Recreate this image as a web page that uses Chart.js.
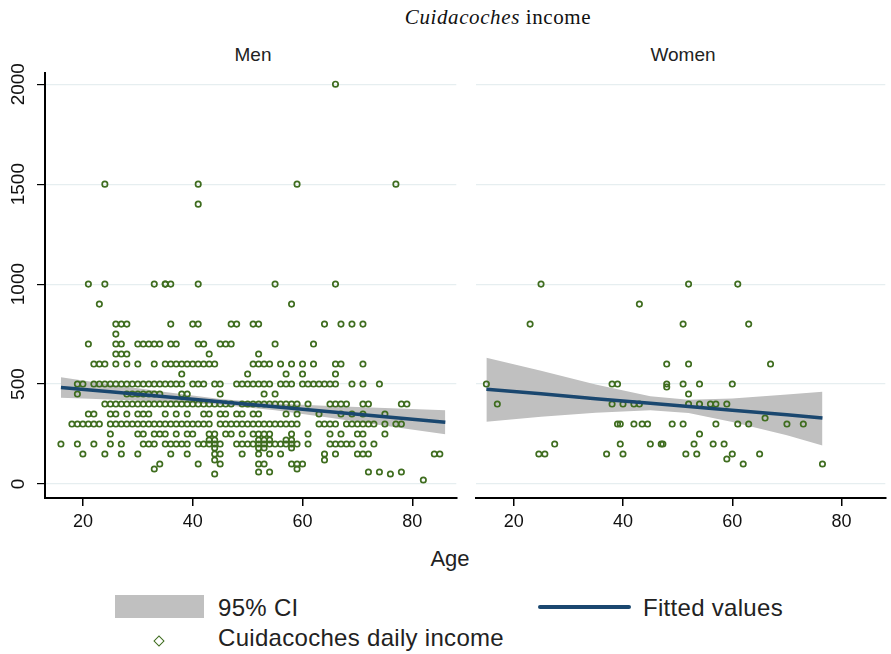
<!DOCTYPE html>
<html lang="en">

<head>
    <meta charset="UTF-8">
    <title>Cuidacoches income</title>
    <style>
        html,
        body {
            margin: 0;
            padding: 0;
            background: #fff;
        }

        body {
            position: relative;
            width: 891px;
            height: 654px;
            overflow: hidden;
            font-family: "Liberation Sans", Arial, sans-serif;
            color: #111;
        }

        canvas,
        .abs {
            position: absolute;
        }

        .abs {
            white-space: nowrap;
        }

        .mid {
            transform: translate(-50%, -50%);
        }

        .left {
            transform: translate(0, -50%);
        }

        #title {
            left: 498px;
            top: 17px;
            font-family: "Liberation Serif", serif;
            font-size: 21px;
            letter-spacing: 0.6px;
        }

        .panel-title {
            top: 55px;
            font-size: 19px;
            color: #222;
        }

        .legend-text {
            font-size: 24px;
            color: #222;
            letter-spacing: 0.3px;
        }
    </style>
</head>

<body>
    <div id="title" class="abs mid"><i>Cuidacoches</i> income</div>
    <div class="abs mid panel-title" style="left: 253px;">Men</div>
    <div class="abs mid panel-title" style="left: 683px;">Women</div>

    <canvas id="menChart" width="462" height="538" style="left: 0; top: 0;"></canvas>
    <canvas id="womenChart" width="421" height="538" style="left: 470px; top: 0;"></canvas>

    <div class="abs mid" style="left: 450px; top: 559px; font-size: 22px; color: #222;">Age</div>

    <div class="abs" style="left: 115px; top: 595px; width: 89px; height: 23px; background: #c0c0c0;"></div>
    <div class="abs left legend-text" style="left: 218px; top: 608px;">95% CI</div>
    <div class="abs" style="left: 538px; top: 605px; width: 93px; height: 4px; border-radius: 2px; background: #1a476f;"></div>
    <div class="abs left legend-text" style="left: 643px; top: 608px;">Fitted values</div>
    <div class="abs mid" style="left: 159px; top: 641px; width: 6px; height: 6px; border: 1.5px solid #3f6d1f; transform: translate(-50%, -50%) rotate(45deg);"></div>
    <div class="abs left legend-text" style="left: 218px; top: 638px;">Cuidacoches daily income</div>
</body>

<script src="https://cdn.jsdelivr.net/npm/chart.js@4.4.6/dist/chart.umd.min.js"></script>
<script>
    const ageTicks = [20, 40, 60, 80];
    const incomeTicks = [0, 500, 1000, 1500, 2000];

    // men: daily income levels and the ages reporting each level
    const menLevels = [2000, 1500, 1400, 1000, 900, 800, 750, 700, 650, 600, 550, 500, 450, 400, 350, 300, 250, 220, 200, 180, 150, 120, 100, 75, 60, 50, 20];
    const menAgesByLevel = [
        [66],
        [24, 41, 59, 77],
        [41],
        [21, 24, 33, 35, 35, 36, 41, 55, 66],
        [23, 58],
        [26, 27, 28, 36, 40, 41, 47, 48, 51, 52, 64, 67, 69, 71],
        [26],
        [21, 26, 27, 30, 31, 32, 33, 34, 36, 37, 41, 42, 45, 46, 47, 55, 62],
        [26, 27, 28, 43, 52],
        [22, 23, 24, 26, 28, 30, 33, 35, 36, 37, 38, 39, 40, 41, 42, 43, 44, 51, 52, 53, 54, 56, 58, 60, 62, 66, 67, 71],
        [38, 50, 57, 60, 66],
        [19, 20, 22, 23, 24, 25, 26, 27, 28, 29, 30, 31, 32, 33, 34, 35, 36, 37, 38, 40, 41, 42, 44, 45, 48, 49, 50, 51, 52, 53, 54, 56, 57, 58, 60, 61, 62, 63, 64, 65, 66, 69, 71, 74],
        [19, 28, 29, 30, 31, 32, 33, 34, 38, 39, 45, 53, 55],
        [24, 25, 26, 27, 28, 29, 30, 31, 32, 33, 34, 35, 36, 37, 38, 39, 40, 41, 42, 43, 44, 45, 46, 47, 49, 50, 51, 52, 53, 54, 55, 56, 57, 58, 59, 61, 65, 66, 67, 68, 71, 72, 78, 79],
        [21, 22, 25, 26, 28, 30, 31, 32, 35, 37, 39, 42, 43, 45, 46, 48, 49, 51, 52, 57, 59, 63, 67, 69, 71, 75],
        [18, 19, 20, 21, 22, 23, 25, 26, 27, 28, 29, 30, 31, 32, 33, 34, 35, 36, 37, 38, 39, 40, 41, 42, 43, 45, 46, 47, 48, 49, 50, 51, 52, 53, 54, 55, 56, 57, 58, 59, 63, 64, 65, 66, 68, 69, 70, 71, 72, 73, 75, 77, 78],
        [25, 30, 31, 33, 34, 35, 37, 39, 40, 43, 44, 46, 47, 49, 51, 52, 53, 54, 58, 61, 65, 67, 70, 71, 75],
        [43, 44, 52, 53, 54, 57, 58],
        [16, 19, 22, 25, 27, 31, 32, 33, 35, 36, 37, 38, 39, 41, 42, 43, 44, 45, 48, 49, 50, 51, 52, 53, 54, 55, 56, 57, 58, 59, 61, 65, 66, 67, 68, 69, 71, 73],
        [44, 52, 53, 58],
        [20, 24, 27, 30, 36, 39, 44, 45, 49, 52, 54, 56, 64, 66, 70, 71, 72, 84, 85],
        [44, 64],
        [34, 41, 45, 52, 53, 58, 59, 60],
        [33, 59],
        [52, 54, 72, 74, 78],
        [44, 76],
        [82],
    ];

    // women: one entry per respondent
    const womenAge = [25, 52, 61, 43, 23, 51, 63, 48, 52, 67, 15, 38, 39, 48, 48, 51, 54, 60, 52, 17, 38, 40, 42, 43, 52, 54, 56, 57, 59, 66, 39, 39.5, 42, 43.5, 44.5, 49, 51, 57, 61, 63, 70, 73, 54, 27.5, 39.5, 45, 47, 47.3, 53, 56.5, 58.5, 24.6, 25.7, 37, 40, 51.5, 53.5, 60, 65, 59, 62, 76.5];
    const womenIncome = [1000, 1000, 1000, 900, 800, 800, 800, 600, 600, 600, 500, 500, 500, 500, 485, 500, 500, 500, 450, 400, 400, 400, 400, 400, 400, 400, 400, 400, 400, 330, 300, 300, 300, 300, 300, 300, 300, 300, 300, 300, 300, 300, 250, 200, 200, 200, 200, 200, 200, 200, 200, 150, 150, 150, 150, 150, 150, 150, 150, 125, 100, 100];

    // linear fit and 95% CI
    const menFitAge = [16, 25, 35, 45, 55, 65, 75, 86];
    const menFit = [483, 461, 436, 411, 386, 361, 336, 309];
    const menCiLow = [432, 423, 412, 397, 369, 332, 292, 249];
    const menCiHigh = [534, 498, 460, 425, 403, 390, 380, 369];

    const womenFitAge = [15, 25, 35, 45, 52, 60, 70, 76.5];
    const womenFit = [474, 451, 427, 404, 388, 369, 346, 330];
    const womenCiLow = [312, 336, 356, 369, 355, 310, 244, 192];
    const womenCiHigh = [632, 566, 498, 439, 421, 428, 448, 462];

    const green = '#3f6d1f';
    const navy = '#1a476f';
    const ciGray = '#c0c0c0';

    const menPoints = [];
    menLevels.forEach((level, i) => {
        menAgesByLevel[i].forEach(age => menPoints.push({ x: age, y: level }));
    });
    const womenPoints = womenAge.map((age, i) => ({ x: age, y: womenIncome[i] }));

    const xy = (xs, ys) => xs.map((x, i) => ({ x, y: ys[i] }));

    function makePanel(canvasId, points, fitAge, fit, low, high, showY) {
        return new Chart(document.getElementById(canvasId), {
            type: 'scatter',
            data: {
                datasets: [
                    {
                        type: 'line', data: xy(fitAge, fit), borderColor: navy, borderWidth: 3.5,
                        pointRadius: 0, fill: false, order: 0,
                    },
                    {
                        data: points, pointStyle: 'circle', radius: 2.7, borderWidth: 1.7,
                        borderColor: green, backgroundColor: 'rgba(0,0,0,0)', order: 1,
                    },
                    {
                        type: 'line', data: xy(fitAge, high), borderColor: 'rgba(0,0,0,0)', borderWidth: 0,
                        pointRadius: 0, fill: '+1', backgroundColor: ciGray, order: 2,
                    },
                    {
                        type: 'line', data: xy(fitAge, low), borderColor: 'rgba(0,0,0,0)', borderWidth: 0,
                        pointRadius: 0, fill: false, order: 3,
                    },
                ]
            },
            options: {
                responsive: false,
                animation: false,
                layout: { padding: { top: 73, left: 0, right: 0, bottom: 0 } },
                plugins: { legend: { display: false }, tooltip: { enabled: false } },
                scales: {
                    x: {
                        type: 'linear',
                        min: 13.1,
                        max: 88,
                        afterBuildTicks: (s) => { s.ticks = ageTicks.map(v => ({ value: v })); },
                        afterFit: (s) => { s.height = 40; },
                        border: { color: '#000', width: 2 },
                        grid: { drawOnChartArea: false, color: '#000', tickLength: 8, lineWidth: 1.5 },
                        ticks: {
                            color: '#111', padding: 5, autoSkip: false, maxRotation: 0,
                            font: { size: 18, family: '"Liberation Sans", Arial, sans-serif' },
                        },
                    },
                    y: {
                        min: -70,
                        max: 2056,
                        afterBuildTicks: (s) => { s.ticks = incomeTicks.map(v => ({ value: v })); },
                        afterFit: (s) => { s.width = showY ? 45 : 6; },
                        border: { display: showY, color: '#000', width: 2 },
                        grid: { color: '#e6eef0', tickColor: '#000', tickLength: 8, drawTicks: showY, lineWidth: 1.2 },
                        ticks: {
                            display: showY, minRotation: 90, maxRotation: 90, crossAlign: 'center',
                            padding: -3, autoSkip: false, color: '#111',
                            callback: (value) => String(value),
                            font: { size: 19, family: '"Liberation Sans", Arial, sans-serif' },
                        },
                    },
                },
            },
        });
    }

    makePanel('menChart', menPoints, menFitAge, menFit, menCiLow, menCiHigh, true);
    makePanel('womenChart', womenPoints, womenFitAge, womenFit, womenCiLow, womenCiHigh, false);
</script>

</html>
